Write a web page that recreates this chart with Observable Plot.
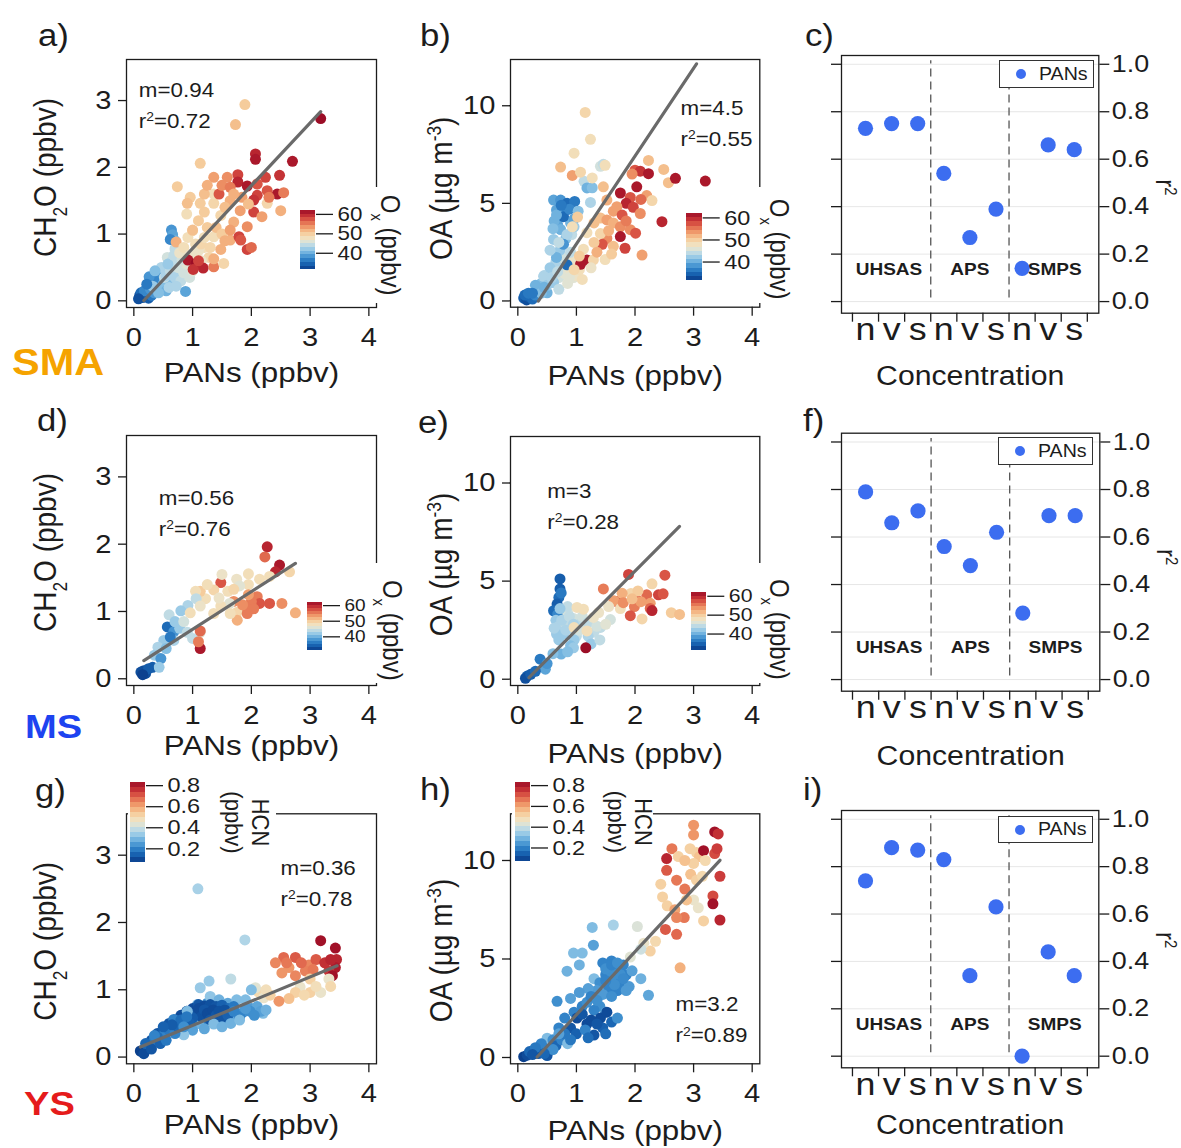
<!DOCTYPE html>
<html>
<head>
<meta charset="utf-8">
<script src="https://cdn.jsdelivr.net/npm/d3@7"></script>
<script src="https://cdn.jsdelivr.net/npm/@observablehq/plot@0.6"></script>
<style>
  html, body { margin: 0; padding: 0; background: #fff; }
  #page { position: relative; width: 1181px; height: 1148px; overflow: hidden; background: #fff; }
</style>
</head>
<body>
<div id="page"></div>
<script>
// ---------------------------------------------------------------------------
// Data
// ---------------------------------------------------------------------------
const pansTicks = [0, 1, 2, 3, 4];
const ch2oTicks = [0, 1, 2, 3];
const oaTicks = [0, 5, 10];
const oxTicks = [40, 50, 60];
const hcnTicks = [0.2, 0.4, 0.6, 0.8];
const r2Ticks = [0, 0.2, 0.4, 0.6, 0.8, 1.0];

const regions = ["SMA", "MS", "YS"];
const instruments = ["UHSAS", "APS", "SMPS"];
const moments = ["n", "v", "s"];

// r² of PANs against particle number / volume / surface concentration
const smaR2 = [0.73, 0.75, 0.75, 0.54, 0.27, 0.39, 0.14, 0.66, 0.64];
const msR2  = [0.79, 0.66, 0.71, 0.56, 0.48, 0.62, 0.28, 0.69, 0.69];
const ysR2  = [0.74, 0.88, 0.87, 0.83, 0.34, 0.63, 0.00, 0.44, 0.34];

// Linear fits, order: SMA CH2O, SMA OA, MS CH2O, MS OA, YS CH2O, YS OA
const fitSlopes     = [0.94, 4.5, 0.56, 3, 0.36, 3.2];
const fitR2         = [0.72, 0.55, 0.76, 0.28, 0.78, 0.89];
const fitIntercepts = [-0.155, -1.58, 0.175, -0.49, 0.11, -1.03];
const fitRanges     = [[0.17, 3.18], [0.35, 3.05], [0.17, 2.75], [0.19, 2.76], [0.11, 3.46], [0.33, 3.45]];

// Scatter points: [PANs (ppbv), y value, colour value (Ox ppbv or HCN ppbv)]
const smaCH2O = [
  [0.10,0.08,33],[0.15,0.05,34],[0.20,0.10,33],[0.12,0.12,35],[0.25,0.04,34],[0.30,0.08,36],[0.18,0.15,37],[0.35,0.12,38],[0.08,0.03,33],[0.28,0.18,38],
  [0.40,0.20,40],[0.45,0.30,39],[0.38,0.35,37],[0.50,0.25,41],[0.55,0.15,40],[0.48,0.42,38],[0.60,0.30,41],[0.26,0.36,38],
  [0.32,0.22,42],[0.42,0.12,41],[0.52,0.35,44],[0.60,0.20,43],[0.67,0.40,45],[0.77,0.40,46],[0.87,0.50,47],[0.93,0.45,46],[0.47,0.50,43],[0.36,0.45,41],[0.22,0.25,36],[0.57,0.65,45],[0.75,0.60,46],[1.05,0.70,47],[1.20,0.80,48],[1.28,0.65,49],[0.70,0.78,44],
  [0.55,0.38,43],[0.62,0.45,44],[0.70,0.35,43],[0.75,0.50,45],[0.80,0.30,44],[0.85,0.42,45],[0.90,0.55,46],[0.65,0.60,44],[0.72,0.22,43],[0.95,0.35,45],[1.00,0.45,46],[0.58,0.55,42],[0.68,0.68,44],[0.82,0.62,45],
  [0.64,1.06,38],[0.66,0.99,39],[0.70,0.90,40],[0.62,0.92,37],[0.88,0.14,39],[0.72,0.88,52],
  [0.78,0.72,47],[0.85,0.80,48],[0.92,0.95,48],[1.00,1.05,49],[1.05,0.85,48],[1.10,0.75,47],[1.14,0.85,49],[0.95,0.68,47],[1.20,0.95,48],[1.25,1.10,50],[1.30,0.80,49],[1.36,0.96,48],[1.00,0.55,46],[1.15,0.60,47],[0.90,1.30,48],
  [1.00,1.06,51],[1.10,1.20,50],[1.20,1.33,50],[1.13,1.46,50],[0.96,1.55,50],[0.91,1.46,51],[1.36,1.46,49],[1.48,1.28,49],[1.36,1.60,48],[1.40,1.10,51],[1.50,1.00,50],[1.55,0.90,52],[1.20,1.60,51],
  [0.92,0.61,61],[1.06,0.56,62],[1.18,0.49,60],[1.01,0.47,59],[1.10,0.60,58],
  [1.36,0.51,55],[1.53,0.56,49],[1.36,0.63,52],[1.48,0.77,52],[1.64,0.91,52],[1.70,1.18,52],[1.93,1.11,54],[1.64,1.06,53],
  [1.79,0.96,58],[1.82,0.91,57],[1.93,0.77,58],[2.00,0.80,56],
  [1.13,2.06,50],[0.74,1.71,50],[1.89,2.94,50],[1.73,2.64,51],[3.18,2.73,62],
  [2.70,2.09,61],[2.07,2.20,60],[2.07,2.12,61],[2.48,1.88,59],[2.50,1.35,52],
  [1.77,1.89,58],[1.77,1.78,60],[2.24,1.85,58],[2.10,1.75,57],[1.93,1.72,61],[2.44,1.60,61],[2.27,1.65,57],[2.10,1.58,58],[2.04,1.51,59],[1.45,1.60,57],
  [1.59,1.85,54],[1.36,1.85,53],[1.25,1.73,52],[1.50,1.73,54],[1.64,1.70,55],[1.84,1.55,53],[1.64,1.50,52],[1.81,1.35,53],[2.04,1.33,58],[2.27,1.46,49],[2.18,1.26,53],[1.55,1.40,51],[1.70,1.60,52],[1.95,1.45,51],[2.30,1.55,55],[2.55,1.62,55]
];

const smaOA = [
  [0.10,0.15,34],[0.15,0.05,33],[0.20,0.20,34],[0.12,0.30,35],[0.25,0.10,35],[0.18,0.40,36],[0.30,0.30,37],
  [0.35,0.60,42],[0.40,0.90,41],[0.45,1.30,43],[0.50,0.42,40],[0.55,1.00,43],[0.60,0.95,42],[0.62,1.50,44],[0.70,1.20,45],[0.75,1.80,44],[0.80,1.40,46],[0.85,2.10,45],[0.90,1.60,47],[0.95,1.20,46],[0.65,2.00,43],[0.55,1.70,42],[0.30,0.80,40],[0.44,1.26,43],[0.61,0.95,42],[0.70,0.60,44],[0.85,0.90,46],[1.00,1.30,47],
  [0.40,0.40,41],[0.50,0.80,42],[0.58,1.20,43],[0.68,1.50,44],[0.78,2.20,45],[0.88,1.20,46],[0.95,2.00,47],[0.72,2.60,42],[0.82,3.20,41],[0.68,3.90,39],[0.90,4.00,40],[0.80,4.60,37],[0.62,4.10,40],[0.92,3.40,44],[0.45,0.70,40],[0.25,0.40,36],[1.05,1.60,48],[1.10,1.10,48],
  [0.61,5.17,39],[0.73,5.17,38],[0.84,5.00,35],[0.97,5.10,36],[0.66,4.66,39],[0.78,4.32,35],[0.96,4.20,39],[0.66,4.40,40],[0.73,3.66,40],[0.96,3.80,42],[0.84,3.40,43],[0.61,3.15,42],[0.78,2.90,38],[0.66,2.23,40],[0.84,1.85,35],[0.55,2.60,43],[0.90,2.50,44],[0.70,3.00,44],[0.60,3.70,41],[0.88,4.70,37],[0.74,4.90,36],[1.03,4.60,41],
  [1.13,6.13,44],[1.18,5.79,40],[1.27,5.80,41],[1.24,5.05,43],[1.41,6.90,45],[1.46,7.00,44],[1.49,6.95,48],
  [1.15,9.66,49],[1.24,8.28,48],[0.96,7.57,48],[0.73,6.86,51],[0.93,6.43,53],[1.07,6.60,49],[1.27,6.30,48],[1.46,5.85,51],[0.93,3.80,48],[1.02,4.30,50],
  [2.23,7.20,51],[2.00,6.70,57],[2.09,6.65,59],[2.23,6.52,61],[1.95,6.50,54],[2.49,6.74,51],[2.57,6.06,51],[2.69,6.28,61],[3.20,6.14,61],
  [1.75,5.53,61],[2.03,5.85,61],[1.92,5.30,57],[2.20,5.40,53],[2.29,5.14,49],[1.85,5.00,60],[2.10,5.20,56],
  [1.69,4.83,53],[1.52,5.17,52],[1.63,4.60,53],[1.78,4.40,57],[1.97,4.80,58],[2.09,4.48,54],[2.46,4.06,60],
  [1.41,4.25,51],[1.52,4.15,53],[1.30,4.00,51],[1.63,4.00,52],[1.75,3.80,54],[1.92,3.65,54],[2.01,3.47,57],[1.75,3.30,61],[1.52,3.20,54],
  [1.41,3.45,49],[1.18,3.50,48],[1.44,2.90,57],[1.63,2.80,51],[1.83,2.70,58],[2.12,2.35,53],
  [1.18,2.10,61],[1.07,1.88,61],[0.96,1.60,49],[1.29,2.10,49],[1.49,2.12,48],[1.12,2.65,48],[1.30,3.00,50],[1.55,3.60,52],[1.85,4.10,55],[1.35,2.50,52],[1.60,2.40,50],[1.25,1.70,47],[1.05,2.30,50]
];

const msCH2O = [
  [2.27,1.96,60],[2.23,1.81,56],[2.48,1.69,61],[2.41,1.59,60],[2.65,1.59,49],[2.31,1.52,48],[2.14,1.48,48],[1.95,1.40,48],[1.95,1.56,48],[1.75,1.48,47],[1.80,1.38,46],
  [2.31,1.12,57],[2.52,1.12,54],[2.75,0.98,52],[2.10,1.22,55],[2.14,1.12,57],[2.00,1.15,55],[1.90,1.07,55],[2.04,1.04,55],[1.76,0.99,49],[1.93,0.97,55],[1.76,0.87,52],[1.85,1.10,54],[1.95,1.25,53],[1.70,1.15,54],
  [1.48,1.43,57],[1.60,1.30,48],[1.36,1.32,49],[1.22,1.19,48],[1.13,1.30,50],[1.63,1.12,46],[1.48,1.08,48],[1.64,0.97,48],[1.36,0.97,48],[1.45,1.20,47],[1.05,1.30,48],[1.25,1.40,48],[1.50,1.55,47],[1.70,1.33,49],
  [1.06,1.19,44],[1.13,1.08,47],[0.92,1.09,43],[0.80,1.01,42],[0.96,0.98,48],[0.60,0.95,44],
  [0.57,0.77,35],[0.68,0.70,38],[0.78,0.75,42],[0.91,0.69,44],[1.13,0.69,46],[1.00,0.60,44],[1.13,0.71,56],[1.13,0.45,61],[1.10,0.55,55],
  [0.68,0.57,43],[0.51,0.57,42],[0.41,0.47,43],[0.35,0.35,42],[0.46,0.30,38],[0.55,0.45,41],[0.62,0.62,36],[0.70,0.85,42],[0.85,0.85,45],
  [0.17,0.12,33],[0.20,0.08,33],[0.32,0.17,34],[0.43,0.17,42],[0.12,0.10,33],[0.25,0.15,34],[0.15,0.06,32]
];

const msOA = [
  [0.72,5.11,34],[0.72,4.60,34],[0.70,4.17,35],[0.67,3.83,34],[0.61,3.49,35],[0.78,3.32,36],[0.68,3.30,37],[0.74,4.40,36],
  [0.65,3.00,42],[0.70,2.70,43],[0.75,2.40,43],[0.80,2.90,44],[0.85,3.40,45],[0.90,2.60,44],[0.95,3.10,45],[1.00,2.20,44],[1.05,2.80,44],[0.66,2.30,42],[0.78,2.30,42],[0.62,2.60,43],[0.85,3.70,44],[0.72,3.60,42],[1.41,2.64,44],[1.30,2.40,44],[1.20,2.20,43],[1.58,3.04,45],[1.10,3.20,45],[0.96,2.00,42],[0.90,1.70,41],[1.25,1.80,42],[1.40,2.00,44],[1.15,2.60,45],
  [0.75,3.00,43],[0.82,2.50,43],[0.88,3.20,44],[0.70,2.00,42],[1.05,2.50,45],[1.20,2.90,44],[1.35,2.70,45],[0.95,2.80,43],
  [1.01,3.66,48],[1.12,3.57,48],[1.29,3.15,47],[1.38,3.40,47],[0.96,2.63,48],[1.18,2.46,48],[1.50,2.80,46],
  [1.16,1.60,62],
  [0.74,1.28,40],[0.95,1.60,42],[0.38,1.02,36],[0.47,0.51,39],[0.50,0.80,38],[0.16,0.16,34],[0.13,0.05,33],[0.22,0.25,34],[0.30,0.40,35],[0.60,1.30,41],[0.85,1.40,41],
  [1.46,4.60,55],[1.89,5.34,58],[2.51,5.30,57],[2.29,4.86,49],[1.93,4.37,49],[1.69,3.96,57],[2.03,4.04,57],[2.20,4.30,56],[2.40,4.30,58],[2.48,4.35,57],[1.99,3.70,55],[2.10,3.95,53],[2.26,3.87,53],[1.78,4.38,52],[1.64,4.00,53],[1.92,3.24,57],[2.12,3.07,49],[2.26,3.61,56],[2.29,3.50,60],[2.62,3.39,50],[2.76,3.30,51],[1.75,3.60,48],[1.55,3.70,47],[2.05,4.50,50],[1.80,3.90,54],[1.95,4.10,51]
];

const ysCH2O = [
  [1.09,2.50,0.35],[1.89,1.74,0.36],
  [3.18,1.73,0.82],[3.43,1.62,0.82],[2.75,1.48,0.70],[2.55,1.48,0.68],[2.41,1.40,0.64],[2.64,1.33,0.62],[2.98,1.37,0.64],[3.45,1.45,0.78],[3.43,1.33,0.80],[3.32,1.28,0.75],[3.38,1.21,0.82],[2.92,1.28,0.65],[2.75,1.21,0.64],[2.52,1.25,0.62],[2.85,1.40,0.68],[3.10,1.45,0.70],[3.25,1.40,0.76],[3.05,1.30,0.66],[2.60,1.40,0.66],[3.35,1.45,0.78],
  [3.00,1.16,0.52],[3.32,1.16,0.45],[2.83,1.04,0.45],[3.00,0.96,0.52],[3.18,0.96,0.45],[2.75,0.96,0.52],[2.64,0.87,0.55],[2.47,0.83,0.62],[3.10,1.05,0.48],[2.90,0.92,0.50],[3.35,1.05,0.50],
  [2.12,0.97,0.50],[2.21,0.88,0.45],[2.32,0.92,0.52],[2.07,1.03,0.43],[2.25,1.00,0.48],
  [1.13,1.03,0.33],[1.28,1.13,0.33],[1.65,1.16,0.38],[2.00,1.00,0.30],[1.08,0.78,0.30],[1.25,0.80,0.22],
  [1.30,0.90,0.32],[1.45,0.85,0.28],[1.60,0.80,0.26],[1.75,0.85,0.30],[1.90,0.85,0.30],
  [0.60,0.50,0.12],[0.70,0.55,0.10],[0.80,0.62,0.10],[0.90,0.68,0.11],[1.00,0.72,0.10],[1.10,0.78,0.12],[1.20,0.76,0.10],[1.30,0.78,0.11],[1.40,0.75,0.12],[1.50,0.77,0.14],[1.60,0.72,0.16],[1.70,0.75,0.18],
  [1.20,0.55,0.18],[1.40,0.52,0.22],[1.60,0.55,0.24],[1.75,0.62,0.26],[1.85,0.66,0.22],[2.00,0.72,0.24],[2.10,0.75,0.26],[2.20,0.65,0.30],
  [0.40,0.35,0.12],[0.50,0.38,0.13],[0.30,0.25,0.12],[0.25,0.18,0.14],[0.45,0.28,0.20],[0.65,0.40,0.22],[0.95,0.55,0.24],[1.10,0.50,0.28],
  [1.05,0.65,0.12],[1.10,0.72,0.10],[1.15,0.60,0.11],[1.20,0.70,0.12],[1.25,0.65,0.10],[1.30,0.55,0.12],[1.35,0.70,0.10],[1.40,0.62,0.12],[1.45,0.68,0.11],[1.50,0.58,0.12],[1.55,0.70,0.11],[1.60,0.62,0.14],[1.00,0.58,0.13],[0.95,0.50,0.14],
  [1.70,0.68,0.20],[1.98,0.68,0.22],[1.80,0.60,0.20],[1.90,0.72,0.24],[2.16,0.68,0.25],[2.05,0.62,0.22],[2.25,0.70,0.28],
  [0.91,0.68,0.30],[0.68,0.56,0.20],
  [1.36,0.49,0.30],[1.50,0.45,0.28],[1.20,0.42,0.26],[1.65,0.50,0.28],[1.80,0.55,0.30],[1.00,0.40,0.25],[0.85,0.33,0.32],
  [0.51,0.33,0.20],[0.34,0.24,0.18],[0.23,0.14,0.10],[0.11,0.09,0.08],[0.17,0.05,0.10],[0.20,0.20,0.15],[0.30,0.12,0.12],[0.40,0.30,0.16],[0.45,0.20,0.14],[0.55,0.25,0.18],[0.60,0.40,0.18],[0.70,0.35,0.20],[0.75,0.45,0.15],[0.80,0.55,0.16],[0.65,0.48,0.13],[0.50,0.45,0.14],[0.35,0.32,0.20],[0.90,0.60,0.18],[0.85,0.45,0.22]
];

const ysOA = [
  [3.00,11.79,0.62],[3.00,11.30,0.62],[3.36,11.45,0.82],[3.42,11.35,0.76],
  [2.54,10.10,0.78],[2.63,10.60,0.66],[2.74,10.20,0.52],[2.94,10.60,0.52],[3.05,10.40,0.52],[3.10,10.20,0.55],[3.00,9.85,0.52],[3.17,10.50,0.82],[3.36,10.35,0.72],[3.20,10.00,0.50],[2.85,10.00,0.55],
  [2.54,9.50,0.70],[2.71,9.00,0.66],[2.85,8.55,0.66],[2.44,8.80,0.52],[2.47,8.15,0.52],[2.55,7.70,0.52],[2.68,7.50,0.60],[2.95,9.30,0.55],[3.05,9.00,0.52],[3.15,9.20,0.50],
  [3.00,8.00,0.45],[3.08,7.60,0.45],[2.88,8.00,0.55],[3.33,8.20,0.72],[3.33,7.80,0.82],[3.45,9.20,0.74],[3.40,10.60,0.74],[3.17,6.93,0.52],[3.45,6.98,0.78],[2.84,7.10,0.66],[2.71,7.10,0.64],[2.52,6.50,0.70],[2.71,6.25,0.68],[2.77,4.55,0.58],
  [2.35,5.90,0.50],[2.26,5.40,0.52],[2.04,6.65,0.42],[2.15,5.80,0.45],[1.92,5.10,0.43],[2.10,5.50,0.40],
  [1.27,6.60,0.30],[1.63,6.72,0.35],[1.29,5.70,0.25],[1.10,5.30,0.30],[0.95,5.30,0.30],[0.84,4.38,0.28],[1.30,4.00,0.30],[1.05,4.70,0.28],
  [1.45,4.80,0.20],[1.55,4.60,0.20],[1.60,4.90,0.20],[1.70,4.50,0.21],[1.80,4.70,0.20],[1.50,4.20,0.20],[1.65,4.00,0.22],[1.75,3.80,0.20],[1.85,4.20,0.20],[1.90,3.60,0.24],[1.40,3.80,0.22],[1.55,3.50,0.20],[1.70,3.40,0.20],[1.95,4.40,0.25],[1.60,4.30,0.22],[1.35,3.40,0.24],
  [1.50,4.50,0.22],[1.60,4.70,0.20],[1.70,4.80,0.22],[1.75,4.20,0.22],[1.80,4.00,0.21],[1.65,3.70,0.22],[1.50,3.90,0.20],[1.45,3.20,0.24],[1.60,3.10,0.22],[1.85,3.40,0.24],[1.20,3.50,0.25],[1.10,2.60,0.20],
  [2.23,3.16,0.26],[2.10,4.00,0.28],
  [0.67,2.85,0.22],[0.96,2.30,0.20],[1.18,2.80,0.22],[1.25,3.10,0.20],[1.05,3.30,0.24],[0.90,3.00,0.25],[1.40,2.60,0.22],[1.50,2.30,0.25],[1.30,2.40,0.20],[1.35,2.90,0.22],[0.80,2.00,0.20],
  [1.01,2.00,0.10],[1.18,1.70,0.10],[1.41,2.00,0.10],[1.52,2.30,0.10],[1.30,1.14,0.12],[1.10,2.20,0.12],[1.25,1.90,0.10],[1.60,1.80,0.15],[1.45,1.50,0.14],[0.90,1.50,0.12],[1.00,1.20,0.14],[1.15,1.40,0.20],[1.35,1.70,0.12],[1.70,2.00,0.22],[1.20,1.00,0.16],[1.50,1.20,0.16],
  [0.50,0.98,0.30],[0.60,0.90,0.22],[0.44,0.50,0.20],[0.27,0.33,0.20],[0.10,0.04,0.08],[0.16,0.12,0.10],[0.20,0.30,0.15],[0.35,0.20,0.12],[0.40,0.70,0.20],[0.55,0.40,0.20],[0.65,0.60,0.15],[0.75,0.90,0.20],[0.80,1.20,0.18],[0.70,1.50,0.20],[0.30,0.50,0.18],[0.50,0.10,0.12],[0.85,0.70,0.30],
  [0.70,1.20,0.25],[0.60,0.40,0.22],[0.45,0.20,0.15],[0.25,0.15,0.12],[0.90,0.90,0.18]
];

// ---------------------------------------------------------------------------
// Styling helpers
// ---------------------------------------------------------------------------
const FONT = '"Liberation Sans", Arial, Helvetica, sans-serif';
const INK = "#1c1c1c";
const STRETCH = 1.12;          // the lettering is set slightly wide
const DOT_BLUE = "#3c6df0";
const FIT_GREY = "#6a6a6a";
const paletteStops = ["#0a3a87", "#1565b5", "#3c8fd0", "#7fbde3", "#bcdcec", "#f2e9cc",
                      "#f6d2a0", "#f3a46f", "#e36b4e", "#c82f35", "#9b0d26"];
const heat = d3.interpolateRgbBasis(paletteStops);
const OX_DOMAIN = [31.5, 62];
const HCN_DOMAIN = [0.07, 0.83];
const PANS_DOMAIN = [-0.125, 4.13];
const CH2O_DOMAIN = [-0.1, 3.615];
const OA_DOMAIN = [-0.32, 12.37];
const R2_DOMAIN = [-0.049, 1.037];
const R2_X_DOMAIN = [-0.92, 8.94];

const page = document.getElementById("page");
const NS = "http://www.w3.org/2000/svg";
const SUB = {"₂": "2", "ₓ": "x"};
const SUP = {"²": "2", "⁻": "-", "³": "3"};

// turn unicode sub/superscripts into shifted tspans
function richText(el) {
  const s = el.textContent;
  if (![...s].some(c => c in SUB || c in SUP)) return;
  while (el.firstChild) el.removeChild(el.firstChild);
  let buf = "", mode = "";
  const flush = () => {
    if (!buf) return;
    if (!mode) el.appendChild(document.createTextNode(buf));
    else {
      const t = document.createElementNS(NS, "tspan");
      t.textContent = buf;
      t.setAttribute("baseline-shift", mode);
      t.setAttribute("font-size", "62%");
      el.appendChild(t);
    }
    buf = "";
  };
  for (const c of s) {
    const m = c in SUB ? "sub" : c in SUP ? "super" : "";
    if (m !== mode) { flush(); mode = m; }
    buf += SUB[c] ?? SUP[c] ?? c;
  }
  flush();
}

function finishSvg(svg) {
  svg.querySelectorAll("text, tspan").forEach(el => {
    if ([...el.childNodes].every(n => n.nodeType === 3)) richText(el);
  });
  svg.querySelectorAll("text").forEach(t => {
    const tr = t.getAttribute("transform");
    if (tr && /^translate\(/.test(tr)) {
      t.setAttribute("transform", tr.replace(/^(translate\([^)]*\))/, `$1 scale(${STRETCH},1)`));
    } else if (!tr) {
      const x = +t.getAttribute("x") || 0, y = +t.getAttribute("y") || 0;
      t.removeAttribute("x"); t.removeAttribute("y");
      t.setAttribute("transform", `translate(${x},${y}) scale(${STRETCH},1)`);
    }
  });
}

function place(svg, left, top) {
  svg.style.position = "absolute";
  svg.style.left = left + "px";
  svg.style.top = top + "px";
  page.appendChild(svg);
  finishSvg(svg);
}

function htmlText(txt, {left, baseline, size, weight = 400, color = INK}) {
  const d = document.createElement("div");
  d.textContent = txt;
  Object.assign(d.style, {
    position: "absolute", left: left + "px", top: (baseline - 0.8465 * size) + "px",
    fontFamily: FONT, fontSize: size + "px", lineHeight: "1", fontWeight: weight, color,
    whiteSpace: "nowrap", transform: `scaleX(${STRETCH})`, transformOrigin: "0 0"
  });
  page.appendChild(d);
}

function mask(left, top, width, height) {
  const d = document.createElement("div");
  Object.assign(d.style, {position: "absolute", left: left + "px", top: top + "px",
    width: width + "px", height: height + "px", background: "#fff"});
  page.appendChild(d);
}

function legendBox(left, top, height) {
  const box = document.createElement("div");
  Object.assign(box.style, {position: "absolute", left: left + "px", top: top + "px", width: "95px",
    height: height + "px", boxSizing: "border-box", border: "1.4px solid #333", background: "#fff"});
  const dot = document.createElement("div");
  Object.assign(dot.style, {position: "absolute", left: "16px", top: (height / 2 - 6) + "px", width: "10px",
    height: "10px", borderRadius: "50%", background: DOT_BLUE});
  box.appendChild(dot);
  const t = document.createElement("div");
  t.textContent = "PANs";
  const size = 17.5;
  Object.assign(t.style, {position: "absolute", left: "39px", top: (height / 2 + 5.5 - 0.8465 * size) + "px",
    fontFamily: FONT, fontSize: size + "px", lineHeight: "1", color: INK,
    transform: `scaleX(${STRETCH})`, transformOrigin: "0 0"});
  box.appendChild(t);
  page.appendChild(box);
}

function margins(frame, box) {
  return {
    width: box[2] - box[0], height: box[3] - box[1],
    marginLeft: frame[0] - box[0], marginTop: frame[1] - box[1],
    marginRight: box[2] - frame[2], marginBottom: box[3] - frame[3]
  };
}

const baseStyle = {fontFamily: FONT, color: INK, background: "transparent", overflow: "visible"};

// ---------------------------------------------------------------------------
// Scatter panel: y vs PANs coloured by a tracer, with linear fit
// ---------------------------------------------------------------------------
function scatterPanel(s) {
  const k = s.fit;
  const fitLine = fitRanges[k].map(x => ({x, y: fitSlopes[k] * x + fitIntercepts[k]}));
  const statText = `m=${fitSlopes[k]}\nr²=${fitR2[k].toFixed(2)}`;
  const svg = Plot.plot({
    ...margins(s.frame, s.box),
    style: baseStyle,
    x: {domain: PANS_DOMAIN, axis: null},
    y: {domain: s.yDomain, axis: null},
    color: {type: "sequential", domain: s.colorDomain, interpolate: heat},
    marks: [
      Plot.dot(s.data, {x: d => d[0], y: d => d[1], fill: d => d[2], r: 5.5}),
      Plot.line(fitLine, {x: "x", y: "y", stroke: FIT_GREY, strokeWidth: 3.2}),
      Plot.frame({stroke: INK, strokeWidth: 1.3}),
      Plot.axisX({ticks: pansTicks, tickSize: 9, tickPadding: 11, fontSize: 26, strokeWidth: 1.3, label: null, tickFormat: d => String(d)}),
      Plot.axisY({ticks: s.yTicks, tickSize: 8, tickPadding: 7, fontSize: 26, strokeWidth: 1.3, label: null, tickFormat: d => String(d)}),
      Plot.text([s.ylabel], {frameAnchor: "left", dx: s.ylab[0], dy: s.ylab[1], rotate: -90, fontSize: 28,
        textAnchor: "middle", lineAnchor: "middle"}),
      Plot.text(["PANs (ppbv)"], {frameAnchor: "bottom", dy: s.xlabDy, fontSize: 28,
        textAnchor: "middle", lineAnchor: "middle"}),
      Plot.text([statText], {frameAnchor: "top-left", dx: s.stat[0], dy: s.stat[1], textAnchor: "start",
        lineAnchor: "bottom", fontSize: 20, lineHeight: 1.55})
    ]
  });
  place(svg, s.box[0], s.box[1]);
}

// ---------------------------------------------------------------------------
// r² summary panel for the size-distribution instruments
// ---------------------------------------------------------------------------
function r2Panel(p) {
  const pts = p.values.map((v, i) => ({i, v}));
  const groupLabels = instruments.map((name, g) => ({name, x: g * 3 + 1 + [-0.1, 0, 0.25][g]}));
  const bounds = d3.range(-0.5, 9, 1);
  const svg = Plot.plot({
    ...margins(p.frame, p.box),
    style: baseStyle,
    x: {domain: R2_X_DOMAIN, axis: null},
    y: {domain: R2_DOMAIN, axis: null},
    marks: [
      Plot.gridY(r2Ticks, {stroke: "#c8c8c8", strokeOpacity: 0.45, strokeWidth: 1}),
      Plot.ruleX([2.5, 5.5], {y1: 0.015, y2: 1.015, stroke: "#555", strokeWidth: 1.3, strokeDasharray: "8,5"}),
      Plot.text(groupLabels, {x: "x", y: 0.135, text: "name", fontWeight: "bold", fontSize: 17}),
      Plot.dot(pts, {x: "i", y: "v", r: 7.6, fill: DOT_BLUE}),
      Plot.frame({stroke: INK, strokeWidth: 1.3}),
      Plot.axisY({anchor: "left", ticks: r2Ticks, tickSize: 10, strokeWidth: 1.3, label: null, tickFormat: () => ""}),
      Plot.axisY({anchor: "right", ticks: r2Ticks, tickSize: 10, tickPadding: 3, fontSize: 24, strokeWidth: 1.3,
        label: null, tickFormat: d3.format(".1f")}),
      Plot.axisX({ticks: bounds, tickSize: 9, strokeWidth: 1.3, label: null, tickFormat: () => ""}),
      Plot.axisX({ticks: d3.range(9), tickSize: 0, tickPadding: 4, fontSize: 32, label: null,
        tickFormat: i => moments[i % 3]}),
      Plot.text(["Concentration"], {frameAnchor: "bottom", dy: p.xlabDy, fontSize: 27,
        textAnchor: "middle", lineAnchor: "middle"}),
      Plot.text(["r²"], {frameAnchor: "right", dx: 66, dy: p.rlabDy, rotate: 90, fontSize: 24,
        textAnchor: "middle", lineAnchor: "middle"})
    ]
  });
  place(svg, p.box[0], p.box[1]);
}

// ---------------------------------------------------------------------------
// Vertical colour bar
// ---------------------------------------------------------------------------
function colorbar(c) {
  const n = 16;
  const step = (c.domain[1] - c.domain[0]) / n;
  const bands = d3.range(n).map(i => ({lo: c.domain[0] + i * step, hi: c.domain[0] + (i + 1) * step}));
  const ml = 2, mt = 30, mr = 130, mb = 40;
  const svg = Plot.plot({
    width: c.w + ml + mr, height: c.h + mt + mb,
    marginLeft: ml, marginRight: mr, marginTop: mt, marginBottom: mb,
    style: baseStyle,
    x: {domain: [0, 1], axis: null},
    y: {domain: c.domain, axis: null},
    color: {type: "sequential", domain: c.domain, interpolate: heat},
    marks: [
      Plot.rect(bands, {x1: 0, x2: 1, y1: "lo", y2: "hi", fill: d => (d.lo + d.hi) / 2, shapeRendering: "crispEdges"}),
      Plot.axisY({anchor: "right", ticks: c.ticks, tickSize: 17, tickPadding: 5, fontSize: c.tickSize, strokeWidth: 1.3,
        label: null, tickFormat: c.format}),
      Plot.text([c.label], {frameAnchor: "right", dx: c.labelAt[0], dy: c.labelAt[1], rotate: 90,
        fontSize: c.labelSize, lineHeight: 1.12, textAnchor: "middle", lineAnchor: "middle"})
    ]
  });
  place(svg, c.x - ml, c.y - mt);
}

// ---------------------------------------------------------------------------
// Layout
// ---------------------------------------------------------------------------
const COLS = [[0, 400], [400, 790], [790, 1181]];
const ROWS = [[25, 398], [398, 775], [775, 1148]];
const box = (r, c) => [COLS[c][0], ROWS[r][0], COLS[c][1], ROWS[r][1]];

// scatter panels
scatterPanel({frame: [126, 59, 376, 307], box: box(0, 0), yDomain: CH2O_DOMAIN, yTicks: ch2oTicks,
  data: smaCH2O, colorDomain: OX_DOMAIN, fit: 0, ylabel: "CH₂O (ppbv)", ylab: [-81, -6], xlabDy: 65.5, stat: [12.3, 68.3]});
scatterPanel({frame: [510, 59, 759.3, 306.7], box: box(0, 1), yDomain: OA_DOMAIN, yTicks: oaTicks,
  data: smaOA, colorDomain: OX_DOMAIN, fit: 1, ylabel: "OA (µg m⁻³)", ylab: [-69, 5], xlabDy: 69, stat: [170, 86]});
scatterPanel({frame: [126, 435, 376, 685], box: box(1, 0), yDomain: CH2O_DOMAIN, yTicks: ch2oTicks,
  data: msCH2O, colorDomain: OX_DOMAIN, fit: 2, ylabel: "CH₂O (ppbv)", ylab: [-81, -8], xlabDy: 61, stat: [32.3, 100]});
scatterPanel({frame: [510, 436, 759.3, 685], box: box(1, 1), yDomain: OA_DOMAIN, yTicks: oaTicks,
  data: msOA, colorDomain: OX_DOMAIN, fit: 3, ylabel: "OA (µg m⁻³)", ylab: [-69, 3.5], xlabDy: 69, stat: [36.7, 92.3]});
scatterPanel({frame: [126, 813.3, 376, 1063.3], box: box(2, 0), yDomain: CH2O_DOMAIN, yTicks: ch2oTicks,
  data: ysCH2O, colorDomain: HCN_DOMAIN, fit: 4, ylabel: "CH₂O (ppbv)", ylab: [-81, 2.5], xlabDy: 61, stat: [154, 91.7]});
scatterPanel({frame: [510, 813.3, 759.3, 1063.3], box: box(2, 1), yDomain: OA_DOMAIN, yTicks: oaTicks,
  data: ysOA, colorDomain: HCN_DOMAIN, fit: 5, ylabel: "OA (µg m⁻³)", ylab: [-69, 11.7], xlabDy: 67.5, stat: [165, 228.4]});

// r² panels
r2Panel({frame: [841, 55, 1098.3, 312.7], box: box(0, 2), values: smaR2, xlabDy: 63.3, rlabDy: 3});
r2Panel({frame: [841, 432.7, 1099.3, 690.7], box: box(1, 2), values: msR2, xlabDy: 65, rlabDy: -5});
r2Panel({frame: [841, 810, 1098.3, 1067.3], box: box(2, 2), values: ysR2, xlabDy: 57.7, rlabDy: 1});

// white backing behind the colour-bar titles where they cross the frame
mask(372, 187, 9, 116);
mask(755, 187, 9, 116);
mask(372, 563, 9, 120);
mask(755, 563, 9, 120);
mask(128, 809, 148, 9);
mask(512, 809, 141, 9);

// colour bars
const oxFmt = d => String(d);
const hcnFmt = d3.format(".1f");
colorbar({x: 300, y: 210, w: 15, h: 59.3, domain: OX_DOMAIN, ticks: oxTicks, format: oxFmt, tickSize: 20,
  label: "Oₓ (ppbv)", labelAt: [75, 5], labelSize: 24});
colorbar({x: 686, y: 212.7, w: 15.7, h: 67.3, domain: OX_DOMAIN, ticks: oxTicks, format: oxFmt, tickSize: 21,
  label: "Oₓ (ppbv)", labelAt: [77, 2], labelSize: 24});
colorbar({x: 306.7, y: 601.7, w: 15, h: 47.6, domain: OX_DOMAIN, ticks: oxTicks, format: oxFmt, tickSize: 17,
  label: "Oₓ (ppbv)", labelAt: [70, 4], labelSize: 24});
colorbar({x: 690.7, y: 591.7, w: 15.3, h: 57.6, domain: OX_DOMAIN, ticks: oxTicks, format: oxFmt, tickSize: 19,
  label: "Oₓ (ppbv)", labelAt: [73, 8], labelSize: 24});
colorbar({x: 130, y: 781.7, w: 15, h: 80, domain: HCN_DOMAIN, ticks: hcnTicks, format: hcnFmt, tickSize: 21,
  label: "HCN\n(ppbv)", labelAt: [102, 0], labelSize: 22});
colorbar({x: 515, y: 781.7, w: 15, h: 79, domain: HCN_DOMAIN, ticks: hcnTicks, format: hcnFmt, tickSize: 21,
  label: "HCN\n(ppbv)", labelAt: [100, 0], labelSize: 22});

// legends in the r² panels
legendBox(999, 60, 28);
legendBox(998, 437.3, 28);
legendBox(998, 816, 27);

// panel letters
const letters = [
  ["a)", 38, 46], ["b)", 420, 46], ["c)", 805, 46],
  ["d)", 37, 431], ["e)", 418, 433], ["f)", 803, 431],
  ["g)", 35, 801], ["h)", 420, 800], ["i)", 803, 800]
];
letters.forEach(([t, left, baseline]) => htmlText(t, {left, baseline, size: 31}));

// region names
htmlText(regions[0], {left: 12, baseline: 375, size: 37, weight: 700, color: "#f5a300"});
htmlText(regions[1], {left: 25, baseline: 738, size: 34, weight: 700, color: "#1d43f0"});
htmlText(regions[2], {left: 24, baseline: 1115, size: 34, weight: 700, color: "#e51b1b"});
</script>
</body>
</html>
